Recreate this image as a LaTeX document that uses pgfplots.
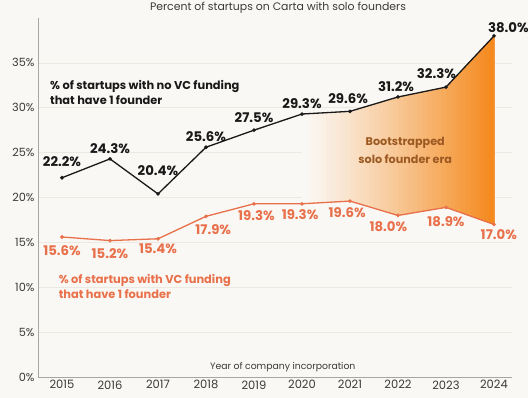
\documentclass[border=0pt]{standalone}
\usepackage{pgfplots}
\pgfplotsset{compat=1.18}
\usepgfplotslibrary{fillbetween}
\usepackage{fontspec}
\setmainfont{Poppins}
\definecolor{bg}{HTML}{FAF8F4}
\definecolor{vcred}{HTML}{E8704A}
\definecolor{boot}{HTML}{F58A1F}
\definecolor{boottext}{HTML}{9C5A22}
\definecolor{gridc}{HTML}{ECE8E2}
\definecolor{axc}{HTML}{A8A6A2}
\definecolor{tickc}{HTML}{3A3A3A}
\pagecolor{bg}
\pgfplotstableread{
year novc vc
2015 22.2 15.6
2016 24.3 15.2
2017 20.4 15.4
2018 25.6 17.9
2019 27.5 19.3
2020 29.3 19.3
2021 29.6 19.6
2022 31.2 18.0
2023 32.3 18.9
2024 38.0 17.0
}\datatable
\begin{document}
\begin{tikzpicture}
\begin{axis}[
  at={(38pt,21pt)}, anchor=south west,
  scale only axis, width=474pt, height=359pt,
  xmin=2014.5, xmax=2024.375, ymin=0, ymax=40,
  axis x line=bottom, axis y line=left,
  axis line style={draw=axc, line width=0.8pt, -},
  xtick={2015,...,2024},
  xticklabel style={/pgf/number format/1000 sep=, font=\fontsize{11.5}{13}\selectfont, text=tickc},
  ytick={0,5,...,35},
  yticklabel={\pgfmathprintnumber{\tick}\%},
  yticklabel style={font=\fontsize{11.3}{13}\selectfont, text=tickc},
  /pgf/number format/assume math mode=true,
  major tick length=0pt,
  ymajorgrids, grid style={draw=gridc, line width=0.6pt},
  clip=false,
]
\addplot[name path=A, draw=none, forget plot] table[x=year, y=novc] {\datatable};
\addplot[name path=B, draw=none, forget plot] table[x=year, y=vc] {\datatable};
\foreach \i in {0,...,39}{
  \pgfmathsetmacro\xs{2020+\i*0.1}
  \pgfmathsetmacro\pc{100*(\i/39)^1.15}
  \edef\temp{\noexpand\addplot[fill=boot!\pc!bg, draw=none, forget plot]
    fill between[of=A and B, soft clip={domain=\xs:2024}];}
  \temp
}
\addplot[black!90, line width=1.3pt, mark=*, mark size=1.1pt] table[x=year, y=novc] {\datatable};
\addplot[vcred, line width=1.3pt, mark=*, mark size=1.1pt] table[x=year, y=vc] {\datatable};
% black labels
\begin{scope}[every node/.style={font=\bfseries\fontsize{13.3}{15}\selectfont, text=black!90}]
\node at (axis cs:2015,23.95) {22.2\%};
\node at (axis cs:2016,25.4) {24.3\%};
\node at (axis cs:2017,23.0) {20.4\%};
\node at (axis cs:2018,26.75) {25.6\%};
\node at (axis cs:2019,28.9) {27.5\%};
\node at (axis cs:2020,30.5) {29.3\%};
\node at (axis cs:2020.96,31.0) {29.6\%};
\node at (axis cs:2021.96,32.3) {31.2\%};
\node at (axis cs:2022.8,33.75) {32.3\%};
\node at (axis cs:2024.3,38.9) {38.0\%};
\end{scope}
\begin{scope}[every node/.style={font=\bfseries\fontsize{13.3}{15}\selectfont, text=vcred}]
\node at (axis cs:2015,14.1) {15.6\%};
\node at (axis cs:2016,13.8) {15.2\%};
\node at (axis cs:2017,14.25) {15.4\%};
\node at (axis cs:2018.15,16.4) {17.9\%};
\node at (axis cs:2019.05,17.95) {19.3\%};
\node at (axis cs:2019.96,18.05) {19.3\%};
\node at (axis cs:2020.94,18.27) {19.6\%};
\node at (axis cs:2021.8,16.7) {18.0\%};
\node at (axis cs:2023.0,17.27) {18.9\%};
\node at (axis cs:2024.1,15.9) {17.0\%};
\end{scope}
\node[anchor=west, align=left, font=\bfseries\fontsize{11.4}{15}\selectfont, text=black!90] at (axis cs:2014.68,31.75) {\% of startups with no VC funding\\that have 1 founder};
\node[anchor=west, align=left, font=\bfseries\fontsize{11.4}{15}\selectfont, text=vcred] at (axis cs:2014.86,10.1) {\% of startups with VC funding\\that have 1 founder};
\node[align=center, font=\bfseries\fontsize{11.2}{18}\selectfont, text=boottext] at (axis cs:2022.15,25.2) {Bootstrapped\\solo founder era};
\node[font=\fontsize{9.3}{11}\selectfont, text=tickc] at (axis cs:2019.6,1.1) {Year of company incorporation};
\end{axis}
\node[font=\fontsize{10.9}{12}\selectfont, text=tickc] at (278pt,390pt) {Percent of startups on Carta with solo founders};
\pgfresetboundingbox
\path[use as bounding box] (0,0) rectangle (528pt,398pt);
\end{tikzpicture}
\end{document}
